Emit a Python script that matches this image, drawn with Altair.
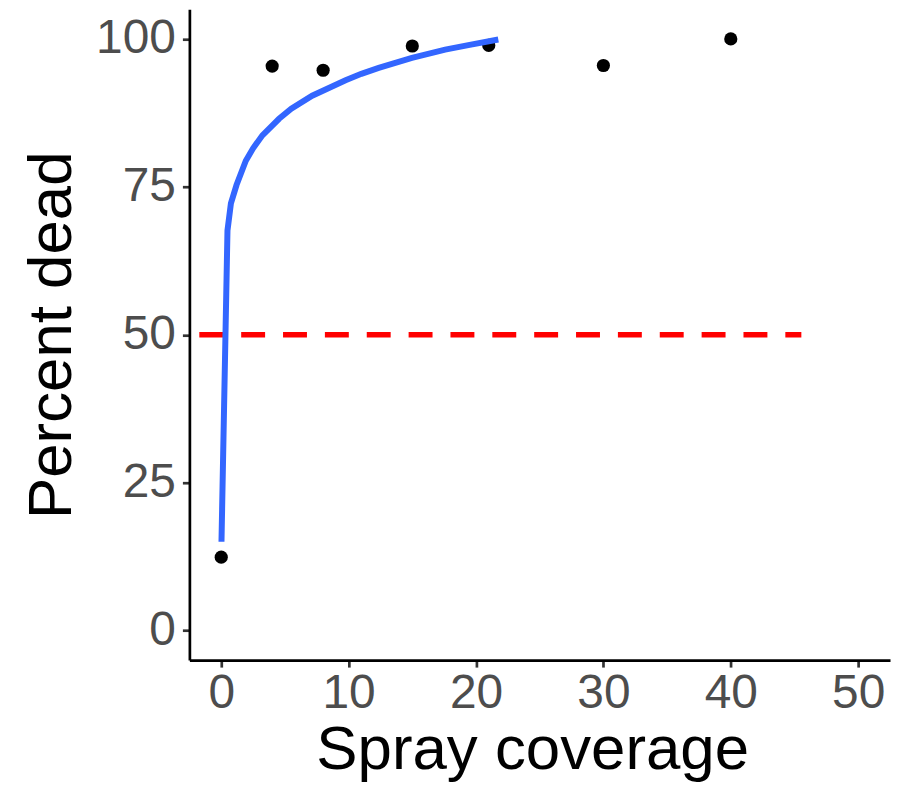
import altair as alt
import pandas as pd

# Observed points
spray_x = [0, 4, 8, 15, 21, 30, 40]
dead_y = [12.4, 95.4, 94.7, 98.8, 98.9, 95.5, 100.0]

# Fitted curve
fit_x = [0.02, 0.49, 0.76, 1.2, 1.93, 2.5, 3.23, 4.54, 5.5, 7.14, 9.76, 11.0, 12.36, 14.97, 17.58, 19.5, 21.75]
fit_y = [15.0, 67.6, 72.2, 75.3, 79.4, 81.5, 83.7, 86.5, 88.2, 90.4, 93.0, 94.1, 95.1, 96.8, 98.2, 99.0, 99.9]

# 50% reference line
ref_x = [-1.72, 45.54]
ref_y = [50, 50]

pts = pd.DataFrame({"x": spray_x, "y": dead_y})
fit = pd.DataFrame({"x": fit_x, "y": fit_y})
ref = pd.DataFrame({"x": ref_x, "y": ref_y})

FONT = "Liberation Sans"

xscale = alt.Scale(domain=[-2.5, 52.5], nice=False, zero=False)
yscale = alt.Scale(domain=[-5, 105], nice=False, zero=False)

common_axis = dict(
    grid=False, domainColor="black", domainWidth=2.7,
    tickColor="#333333", tickWidth=2.7, tickSize=7,
    labelFont=FONT, labelFontSize=48, labelColor="#4D4D4D",
    titleFont=FONT, titleFontSize=62, titleColor="black", titleFontWeight="normal",
)

xaxis = alt.Axis(values=[0, 10, 20, 30, 40, 50], title="Spray coverage",
                 labelPadding=3, titlePadding=2, titleX=344, **common_axis)
yaxis = alt.Axis(values=[0, 25, 50, 75, 100], title="Percent dead",
                 labelPadding=7, titlePadding=12, **common_axis)

ref_line = alt.Chart(ref).mark_line(color="red", strokeWidth=5.5, strokeDash=[24, 18], strokeCap="butt").encode(
    x=alt.X("x:Q", scale=xscale, axis=xaxis),
    y=alt.Y("y:Q", scale=yscale, axis=yaxis),
)

points = alt.Chart(pts).mark_circle(color="black", opacity=1, size=175).encode(
    x=alt.X("x:Q", scale=xscale, axis=xaxis),
    y=alt.Y("y:Q", scale=yscale, axis=yaxis),
)

curve = alt.Chart(fit).mark_line(color="#3366FF", strokeWidth=6).encode(
    x=alt.X("x:Q", scale=xscale, axis=xaxis),
    y=alt.Y("y:Q", scale=yscale, axis=yaxis),
)

chart = alt.layer(ref_line, points, curve).properties(
    width=703, height=653,
    background="white",
    autosize=alt.AutoSizeParams(type="none"),
    padding={"left": 182, "top": 0, "right": 4, "bottom": 128},
).configure_view(stroke=None)

chart.save("out.html", embed_options={"renderer": "svg", "actions": False})
